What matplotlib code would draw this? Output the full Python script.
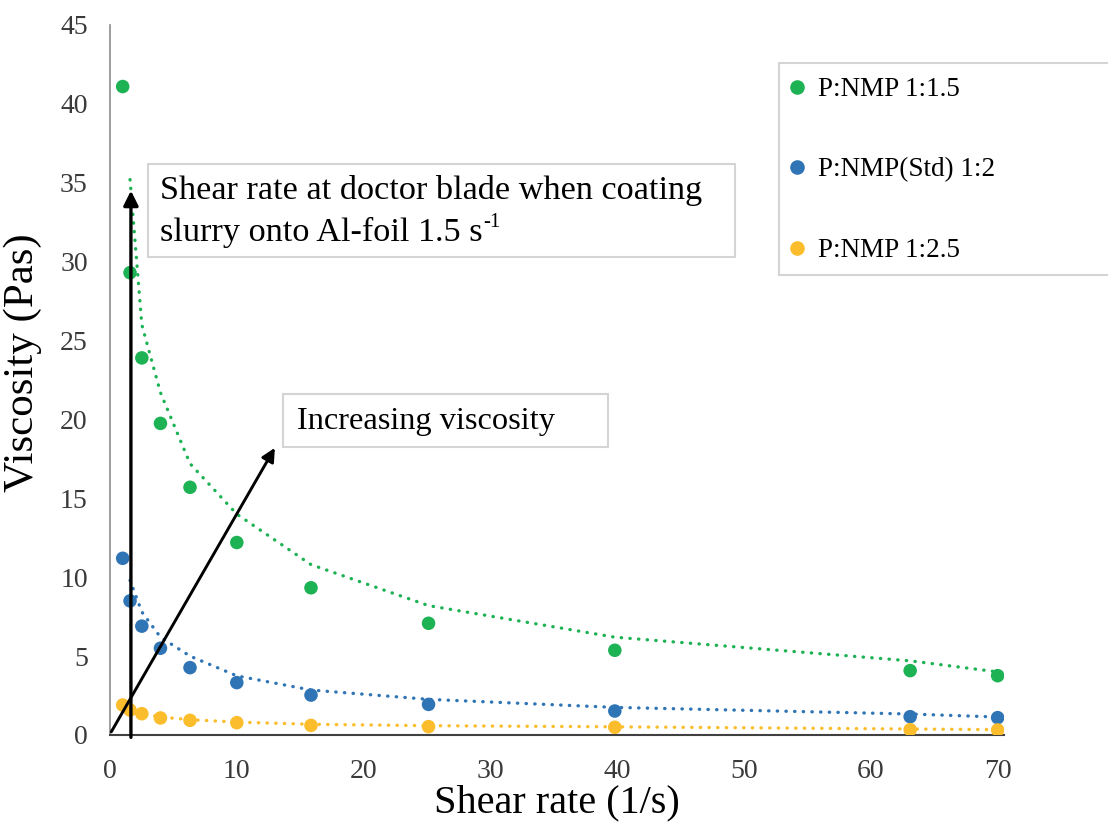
import matplotlib
matplotlib.use("Agg")
import matplotlib.pyplot as plt
from matplotlib.lines import Line2D
from matplotlib.patches import Rectangle

plt.rcParams['font.family'] = ['Liberation Serif', 'DejaVu Serif']

# measured shear rates (1/s)
shear = [1, 1.58, 2.51, 3.98, 6.31, 10, 15.85, 25.12, 39.81, 63.1, 70]
visc_15 = [41.1, 29.3, 23.9, 19.75, 15.7, 12.2, 9.33, 7.08, 5.37, 4.08, 3.76]
visc_20 = [11.2, 8.5, 6.9, 5.5, 4.27, 3.32, 2.53, 1.94, 1.52, 1.16, 1.10]
visc_25 = [1.90, 1.58, 1.35, 1.08, 0.93, 0.78, 0.61, 0.53, 0.49, 0.34, 0.32]

# trendlines as drawn in the original chart
trend_x = [1.58, 2.51, 3.98, 6.31, 10, 15.85, 25.12, 39.81, 63.1, 70]
trend_15 = [35.2, 26.0, 21.7, 17.2, 14.0, 10.8, 8.2, 6.2, 4.7, 4.0]
trend_20 = [9.8, 7.8, 6.2, 5.0, 3.75, 2.85, 2.26, 1.75, 1.33, 1.14]
trend_25 = [1.70, 1.36, 1.14, 0.97, 0.82, 0.68, 0.59, 0.52, 0.38, 0.34]

labels = ['P:NMP 1:1.5', 'P:NMP(Std) 1:2', 'P:NMP 1:2.5']
colors = ['#1db254', '#2f74b5', '#fbbd2c']

W, H = 1108, 823


def fx(px):
    return px / W


def fy(py):
    return 1 - py / H


fig = plt.figure(figsize=(W / 100, H / 100), dpi=100)
ax = fig.add_axes([fx(110), fy(735), (1004 - 110) / W, (735 - 25) / H])

for vals, tr, c in zip([visc_15, visc_20, visc_25], [trend_15, trend_20, trend_25], colors):
    ax.plot(trend_x, tr, color=c, lw=2.4, linestyle=(0, (0.1, 2.5)),
            dash_capstyle='round', zorder=2)
    ax.scatter(shear, vals, s=95, color=c, edgecolors='none', zorder=3)

ax.set_xlim(0, 70.5)
ax.set_ylim(0, 45)
ax.set_xticks(range(0, 71, 10))
ax.set_yticks(range(0, 46, 5))
ax.tick_params(length=0, labelsize=20, labelcolor='#3a3a3a')
ax.tick_params(axis='x', pad=17)
ax.tick_params(axis='y', pad=16)
for s in ['top', 'right']:
    ax.spines[s].set_visible(False)
ax.spines['left'].set_color('#8c8c8c')
ax.spines['left'].set_linewidth(1.2)
ax.spines['bottom'].set_color('#404040')
ax.spines['bottom'].set_linewidth(1.5)

ax.set_xlabel('Shear rate (1/s)', fontsize=29, color='black')
ax.set_ylabel('Viscosity (Pas)', fontsize=31, color='black')
ax.xaxis.set_label_coords(0.5, -0.07)
ax.yaxis.set_label_coords(-0.076, 0.525)

# annotation arrows
ax.annotate('', xy=(1.65, 34.5), xytext=(1.65, -0.15),
            arrowprops=dict(arrowstyle='-|>', lw=2.4, color='black', mutation_scale=22,
                            shrinkA=0, shrinkB=0), annotation_clip=False)
ax.annotate('', xy=(13.0, 18.2), xytext=(0.1, 0.2),
            arrowprops=dict(arrowstyle='-|>', lw=2.1, color='black', mutation_scale=20,
                            shrinkA=0, shrinkB=0), annotation_clip=False)

# text boxes
box_edge = '#d4d4d4'
fig.add_artist(Rectangle((fx(148), fy(257)), (735 - 148) / W, (257 - 164) / H,
                         transform=fig.transFigure, facecolor='white',
                         edgecolor=box_edge, lw=1.5, zorder=5))
fig.text(fx(160), fy(190), 'Shear rate at doctor blade when coating',
         fontsize=24.7, va='center', ha='left', zorder=6)
t2 = fig.text(fx(160), fy(232), 'slurry onto Al-foil 1.5 s',
              fontsize=24.7, va='center', ha='left', zorder=6)
renderer = fig.canvas.get_renderer()
bb = t2.get_window_extent(renderer)
fig.text(bb.x1 / W + 0.001, fy(222), '-1', fontsize=15, va='center', ha='left', zorder=6)

fig.add_artist(Rectangle((fx(283), fy(447)), (608 - 283) / W, (447 - 394) / H,
                         transform=fig.transFigure, facecolor='white',
                         edgecolor=box_edge, lw=1.5, zorder=5))
fig.text(fx(297), fy(421), 'Increasing viscosity', fontsize=23.3,
         va='center', ha='left', zorder=6)

# legend
fig.add_artist(Rectangle((fx(779), fy(275)), (1112 - 779) / W, (275 - 63) / H,
                         transform=fig.transFigure, facecolor='white',
                         edgecolor=box_edge, lw=1.5, zorder=5))
handles = [Line2D([], [], marker='o', linestyle='none', markersize=10.5,
                  markerfacecolor=c, markeredgecolor='none') for c in colors]
leg = fig.legend(handles, labels, loc='upper left', bbox_to_anchor=(fx(786), fy(77)),
                 frameon=False, fontsize=19.5, labelspacing=2.05, handlelength=0.8,
                 handletextpad=0.37, borderpad=0, borderaxespad=0)
leg.set_zorder(7)

fig.savefig('out.png', dpi=100)
